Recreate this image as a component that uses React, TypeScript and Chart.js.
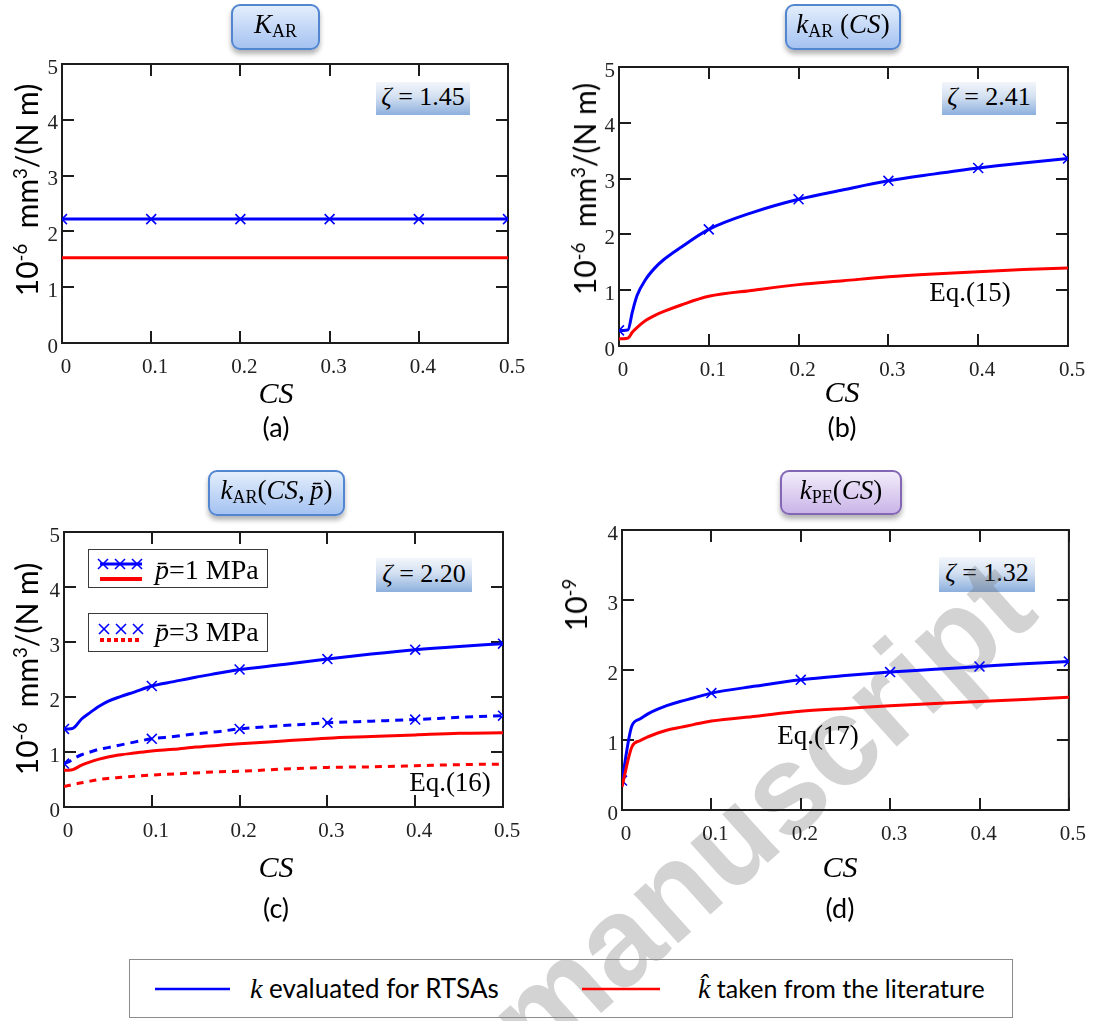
import React, { useEffect, useRef } from "react";
import { Chart, registerables } from "chart.js";

Chart.register(...registerables);

const SERIF = "'Liberation Serif', 'Times New Roman', serif";
const SANS = "Lato, 'Open Sans', 'Liberation Sans', sans-serif";
const BLUE = "#0000ff";
const RED = "#ff0000";

// ---------- tick labels ----------
const CS_TICKS = [0, 0.1, 0.2, 0.3, 0.4, 0.5];
const K_TICKS_AR = [0, 1, 2, 3, 4, 5];
const K_TICKS_PE = [0, 1, 2, 3, 4];

// ---------- (a) K_AR ----------
const CS_A = [0, 0.1, 0.2, 0.3, 0.4, 0.5];
const A_RTSA = [2.22, 2.22, 2.22, 2.22, 2.22, 2.22];
const A_LIT = [1.53, 1.53, 1.53, 1.53, 1.53, 1.53];

// ---------- (b) k_AR(CS) ----------
const CS_B = [0, 0.005, 0.01, 0.015, 0.02, 0.03, 0.04, 0.05, 0.07, 0.1, 0.15, 0.2, 0.25, 0.3, 0.35, 0.4, 0.45, 0.5];
const B_RTSA = [0.28, 0.28, 0.29, 0.62, 0.9, 1.2, 1.4, 1.55, 1.78, 2.09, 2.4, 2.63, 2.8, 2.96, 3.08, 3.19, 3.28, 3.36];
const B_LIT = [0.13, 0.13, 0.14, 0.25, 0.33, 0.46, 0.55, 0.62, 0.74, 0.89, 1.0, 1.1, 1.17, 1.24, 1.29, 1.33, 1.37, 1.4];

// ---------- (c) k_AR(CS, p) ----------
const CS_C = [0, 0.005, 0.01, 0.02, 0.03, 0.04, 0.05, 0.065, 0.08, 0.1, 0.125, 0.15, 0.175, 0.2, 0.25, 0.3, 0.35, 0.4, 0.45, 0.5];
const C_RTSA_P1 = [1.42, 1.42, 1.43, 1.6, 1.72, 1.83, 1.92, 2.01, 2.09, 2.2, 2.28, 2.36, 2.43, 2.5, 2.59, 2.69, 2.78, 2.86, 2.92, 2.97];
const C_LIT_P1 = [0.67, 0.67, 0.68, 0.76, 0.82, 0.87, 0.91, 0.95, 0.98, 1.02, 1.05, 1.09, 1.12, 1.15, 1.2, 1.25, 1.28, 1.31, 1.34, 1.35];
const C_RTSA_P3 = [0.79, 0.82, 0.87, 0.95, 1.0, 1.05, 1.08, 1.13, 1.18, 1.24, 1.28, 1.33, 1.37, 1.42, 1.48, 1.53, 1.56, 1.59, 1.63, 1.66];
const C_LIT_P3 = [0.37, 0.39, 0.41, 0.44, 0.47, 0.5, 0.52, 0.54, 0.56, 0.58, 0.6, 0.62, 0.64, 0.65, 0.69, 0.72, 0.73, 0.75, 0.77, 0.78];

// ---------- (d) k_PE(CS) ----------
const CS_D = [0, 0.011, 0.02, 0.03, 0.04, 0.05, 0.065, 0.08, 0.1, 0.15, 0.2, 0.25, 0.3, 0.35, 0.4, 0.45, 0.5];
const D_RTSA = [0.42, 1.2, 1.3, 1.38, 1.44, 1.49, 1.55, 1.6, 1.67, 1.77, 1.86, 1.92, 1.97, 2.01, 2.05, 2.09, 2.12];
const D_LIT = [0.33, 0.9, 0.99, 1.05, 1.1, 1.14, 1.18, 1.22, 1.27, 1.34, 1.41, 1.45, 1.49, 1.52, 1.55, 1.58, 1.61];

type Series = { xs: number[]; ys: number[]; color: string; dash?: number[]; markers?: boolean };
type Area = { l: number; r: number; t: number; b: number };

const framePlugin = {
  id: "frameTicks",
  beforeDatasetsDraw(chart: any) {
    const { ctx, chartArea: a, scales } = chart;
    const L = 12;
    ctx.save();
    ctx.strokeStyle = "#1c1c1c";
    ctx.lineWidth = 2;
    ctx.beginPath();
    for (const t of scales.x.ticks) {
      const px = Math.round(scales.x.getPixelForValue(t.value));
      ctx.moveTo(px, a.bottom);
      ctx.lineTo(px, a.bottom - L);
      ctx.moveTo(px, a.top);
      ctx.lineTo(px, a.top + L);
    }
    for (const t of scales.y.ticks) {
      const py = Math.round(scales.y.getPixelForValue(t.value));
      ctx.moveTo(a.left, py);
      ctx.lineTo(a.left + L, py);
      ctx.moveTo(a.right, py);
      ctx.lineTo(a.right - L, py);
    }
    ctx.stroke();
    ctx.strokeRect(a.left, a.top, a.right - a.left, a.bottom - a.top);
    ctx.restore();
  },
};

function Panel(props: { left: number; top: number; w: number; h: number; area: Area; yTicks: number[]; series: Series[] }) {
  const { left, top, w, h, area, yTicks, series } = props;
  const ref = useRef<HTMLCanvasElement>(null);
  useEffect(() => {
    if (!ref.current) return;
    const chart = new Chart(ref.current, {
      type: "line",
      data: {
        datasets: series.map((s) => ({
          data: s.xs.map((x, i) => ({ x, y: s.ys[i] })),
          borderColor: s.color,
          backgroundColor: s.color,
          borderWidth: 3,
          borderDash: s.dash ?? [],
          fill: false,
          cubicInterpolationMode: "monotone",
          pointStyle: "crossRot",
          pointRadius: (c: any) => (s.markers && CS_TICKS.includes(s.xs[c.dataIndex]) ? 7 : 0),
          pointHoverRadius: 0,
          pointBorderColor: s.color,
          pointBorderWidth: 1.6,
        })),
      } as any,
      options: {
        responsive: false,
        animation: false,
        events: [],
        layout: { padding: { left: 0, top: area.t, right: w - area.r, bottom: 0 } },
        plugins: { legend: { display: false }, tooltip: { enabled: false } },
        scales: {
          x: {
            type: "linear",
            min: 0,
            max: 0.5,
            afterFit: (s: any) => {
              s.height = h - area.b;
            },
            afterBuildTicks: (s: any) => {
              s.ticks = CS_TICKS.map((v) => ({ value: v }));
            },
            grid: { display: false, drawTicks: false },
            border: { display: false },
            ticks: {
              padding: 12,
              labelOffset: 4,
              color: "#222",
              font: { family: SERIF, size: 21 },
              maxRotation: 0,
              autoSkip: false,
              callback: (v: any) => String(v),
            },
          },
          y: {
            type: "linear",
            min: 0,
            max: yTicks[yTicks.length - 1],
            afterFit: (s: any) => {
              s.width = area.l;
            },
            afterBuildTicks: (s: any) => {
              s.ticks = yTicks.map((v) => ({ value: v }));
            },
            grid: { display: false, drawTicks: false },
            border: { display: false },
            ticks: {
              padding: 4,
              labelOffset: 4,
              color: "#222",
              font: { family: SERIF, size: 21 },
              autoSkip: false,
              callback: (v: any) => String(v),
            },
          },
        },
      } as any,
      plugins: [framePlugin],
    });
    return () => chart.destroy();
  }, []);
  return <canvas ref={ref} width={w} height={h} style={{ position: "absolute", left, top, width: w, height: h }} />;
}

function Txt(props: { x: number; y: number; rot?: number; left?: boolean; style?: React.CSSProperties; children: React.ReactNode }) {
  const { x, y, rot, left, style, children } = props;
  return (
    <div
      style={{
        position: "absolute",
        left: x,
        top: y,
        transform: `translate(${left ? "0" : "-50%"},-50%)${rot ? ` rotate(${rot}deg)` : ""}`,
        whiteSpace: "nowrap",
        lineHeight: 1,
        color: "#000",
        ...style,
      }}
    >
      {children}
    </div>
  );
}

const supStyle: React.CSSProperties = { fontSize: "0.62em", position: "relative", top: "-0.6em" };
const subStyle: React.CSSProperties = { fontSize: 18, position: "relative", top: 7, fontStyle: "normal" };

function TitleBox(props: { x: number; y: number; w: number; h: number; purple?: boolean; children: React.ReactNode }) {
  const { x, y, w, h, purple, children } = props;
  return (
    <div
      style={{
        position: "absolute",
        left: x,
        top: y,
        width: w,
        height: h,
        boxSizing: "border-box",
        borderRadius: 9,
        border: `2px solid ${purple ? "#8467b4" : "#5286d0"}`,
        background: purple ? "linear-gradient(#f2ecfa, #cab5e8)" : "linear-gradient(#e3eefc, #a4c2f1)",
        boxShadow: "0 4px 5px rgba(0,0,0,0.3)",
        display: "flex",
        alignItems: "center",
        justifyContent: "center",
        fontFamily: SERIF,
        fontSize: 27,
        whiteSpace: "nowrap",
        paddingBottom: 5,
      }}
    >
      {children}
    </div>
  );
}

function ZetaBox(props: { x: number; y: number; w: number; h: number; value: string }) {
  const { x, y, w, h, value } = props;
  return (
    <div
      style={{
        position: "absolute",
        left: x,
        top: y,
        width: w,
        height: h,
        background: "linear-gradient(#f3f6fb 0%, #d3e0f1 45%, #8cafdd 100%)",
        display: "flex",
        alignItems: "center",
        justifyContent: "center",
        fontFamily: SERIF,
        fontSize: 26,
        whiteSpace: "nowrap",
        paddingBottom: 3,
        boxSizing: "border-box",
      }}
    >
      <i>ζ</i>&nbsp;=&nbsp;{value}
    </div>
  );
}

function YTitle(props: { x: number; y: number; exp: string; unit: boolean }) {
  return (
    <Txt x={props.x} y={props.y} rot={-90} style={{ fontFamily: SANS, fontSize: 30 }}>
      10<span style={supStyle}>{props.exp}</span>
      {props.unit ? (
        <>
          {"\u00a0\u00a0"}mm<span style={supStyle}>3</span>/(N m)
        </>
      ) : null}
    </Txt>
  );
}

function Cross(props: { cx: number; cy: number }) {
  const { cx, cy } = props;
  const d = 5;
  return (
    <g stroke={BLUE} strokeWidth={1.6}>
      <line x1={cx - d} y1={cy - d} x2={cx + d} y2={cy + d} />
      <line x1={cx - d} y1={cy + d} x2={cx + d} y2={cy - d} />
    </g>
  );
}

export default function App() {
  const csStyle: React.CSSProperties = { fontFamily: SERIF, fontStyle: "italic", fontSize: 30 };
  const capStyle: React.CSSProperties = { fontFamily: SANS, fontSize: 27 };
  const eqStyle: React.CSSProperties = { fontFamily: SERIF, fontSize: 27 };
  const legStyle: React.CSSProperties = { fontFamily: SERIF, fontSize: 28 };
  return (
    <div style={{ position: "absolute", left: 0, top: 0, width: 1094, height: 1021, background: "#fff", overflow: "hidden" }}>
      <ZetaBox x={376} y={82} w={94} h={33} value="1.45" />
      <ZetaBox x={942} y={82} w={94} h={33} value="2.41" />
      <ZetaBox x={376} y={558} w={96} h={34} value="2.20" />
      <ZetaBox x={939} y={557} w={96} h={35} value="1.32" />

      <div
        style={{
          position: "absolute",
          left: 760,
          top: 812,
          transform: "translate(-50%,-50%) rotate(-42deg)",
          fontFamily: "'Liberation Sans', Arial, sans-serif",
          fontWeight: "bold",
          fontSize: 126,
          lineHeight: 1,
          color: "rgba(110,110,110,0.3)",
          whiteSpace: "nowrap",
        }}
      >
        manuscript
      </div>

      <Panel
        left={0}
        top={0}
        w={540}
        h={440}
        area={{ l: 62, r: 508, t: 64, b: 343 }}
        yTicks={K_TICKS_AR}
        series={[
          { xs: CS_A, ys: A_LIT, color: RED },
          { xs: CS_A, ys: A_RTSA, color: BLUE, markers: true },
        ]}
      />
      <Panel
        left={540}
        top={0}
        w={554}
        h={440}
        area={{ l: 79, r: 528, t: 67, b: 346 }}
        yTicks={K_TICKS_AR}
        series={[
          { xs: CS_B, ys: B_LIT, color: RED },
          { xs: CS_B, ys: B_RTSA, color: BLUE, markers: true },
        ]}
      />
      <Panel
        left={0}
        top={460}
        w={540}
        h={460}
        area={{ l: 64, r: 503, t: 72, b: 347 }}
        yTicks={K_TICKS_AR}
        series={[
          { xs: CS_C, ys: C_LIT_P3, color: RED, dash: [7, 6] },
          { xs: CS_C, ys: C_RTSA_P3, color: BLUE, dash: [8, 6], markers: true },
          { xs: CS_C, ys: C_LIT_P1, color: RED },
          { xs: CS_C, ys: C_RTSA_P1, color: BLUE, markers: true },
        ]}
      />
      <Panel
        left={540}
        top={460}
        w={554}
        h={460}
        area={{ l: 82, r: 529, t: 70, b: 350 }}
        yTicks={K_TICKS_PE}
        series={[
          { xs: CS_D, ys: D_LIT, color: RED },
          { xs: CS_D, ys: D_RTSA, color: BLUE, markers: true },
        ]}
      />

      {/* panel titles */}
      <TitleBox x={231} y={4} w={89} h={46}>
        <i>K</i>
        <span style={subStyle}>AR</span>
      </TitleBox>
      <TitleBox x={785} y={4} w={116} h={46}>
        <i>k</i>
        <span style={subStyle}>AR</span>
        &nbsp;(<i>CS</i>)
      </TitleBox>
      <TitleBox x={208} y={470} w={137} h={46}>
        <i>k</i>
        <span style={subStyle}>AR</span>
        (<i>CS</i>,{"\u2009"}<i>p&#x0304;</i>)
      </TitleBox>
      <TitleBox x={780} y={470} w={122} h={45} purple>
        <i>k</i>
        <span style={subStyle}>PE</span>
        (<i>CS</i>)
      </TitleBox>

      {/* axis titles */}
      <YTitle x={26} y={190} exp="-6" unit />
      <YTitle x={584} y={189} exp="-6" unit />
      <YTitle x={26} y={669} exp="-6" unit />
      <YTitle x={575} y={605} exp="-9" unit={false} />

      <Txt x={276} y={393} style={csStyle}>CS</Txt>
      <Txt x={842} y={392} style={csStyle}>CS</Txt>
      <Txt x={276} y={867} style={csStyle}>CS</Txt>
      <Txt x={840} y={867} style={csStyle}>CS</Txt>

      <Txt x={276} y={426} style={capStyle}>(a)</Txt>
      <Txt x={842} y={426} style={capStyle}>(b)</Txt>
      <Txt x={276} y={907} style={capStyle}>(c)</Txt>
      <Txt x={840} y={907} style={capStyle}>(d)</Txt>

      <Txt x={970} y={292} style={eqStyle}>Eq.(15)</Txt>
      <Txt x={450} y={782} style={eqStyle}>Eq.(16)</Txt>
      <Txt x={818} y={735} style={eqStyle}>Eq.(17)</Txt>

      {/* (c) legend */}
      <div style={{ position: "absolute", left: 88, top: 549, width: 180, height: 39, border: "1.5px solid #3a3a3a", boxSizing: "border-box" }} />
      <div style={{ position: "absolute", left: 88, top: 613, width: 180, height: 39, border: "1.5px solid #3a3a3a", boxSizing: "border-box" }} />
      <Txt x={155} y={570} left style={legStyle}>
        <i>p&#x0304;</i>=1 MPa
      </Txt>
      <Txt x={155} y={632} left style={legStyle}>
        <i>p&#x0304;</i>=3 MPa
      </Txt>

      {/* bottom legend */}
      <div style={{ position: "absolute", left: 129, top: 959, width: 884, height: 59, border: "1.5px solid #8c8c8c", boxSizing: "border-box" }} />
      <Txt x={250} y={989} left style={{ fontFamily: SANS, fontSize: 26 }}>
        <span style={{ fontFamily: SERIF, fontStyle: "italic", fontSize: 28 }}>k</span> evaluated for RTSAs
      </Txt>
      <Txt x={698} y={989} left style={{ fontFamily: SANS, fontSize: 25 }}>
        <span style={{ fontFamily: SERIF, fontStyle: "italic", fontSize: 28 }}>k&#x0302;</span> taken from the literature
      </Txt>

      <svg width={1094} height={1021} style={{ position: "absolute", left: 0, top: 0, pointerEvents: "none" }}>
        <line x1={100} y1={564} x2={142} y2={564} stroke={BLUE} strokeWidth={3} />
        <Cross cx={103} cy={564} />
        <Cross cx={120} cy={564} />
        <Cross cx={137} cy={564} />
        <line x1={100} y1={579} x2={142} y2={579} stroke={RED} strokeWidth={4} />
        <Cross cx={104} cy={629} />
        <Cross cx={121} cy={629} />
        <Cross cx={138} cy={629} />
        <line x1={100} y1={640} x2={142} y2={640} stroke={RED} strokeWidth={4} strokeDasharray="4 3" />
        <line x1={155} y1={989} x2={230} y2={989} stroke={BLUE} strokeWidth={2.5} />
        <line x1={582} y1={989} x2={660} y2={989} stroke={RED} strokeWidth={2.5} />
      </svg>
    </div>
  );
}
